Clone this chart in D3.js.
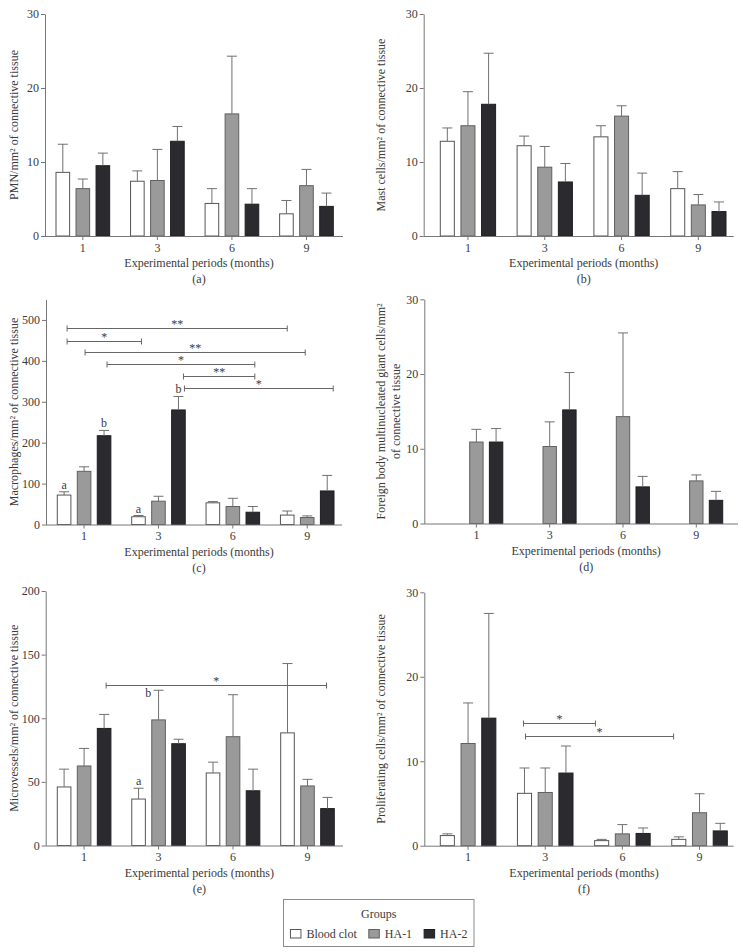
<!DOCTYPE html>
<html>
<head>
<meta charset="utf-8">
<script src="https://cdn.jsdelivr.net/npm/d3@7"></script>
<style>
  body { margin: 0; background: #fff; }
  svg { display: block; }
  text { font-family: "Liberation Serif", "Times New Roman", serif; fill: #3a3a3a; }
</style>
</head>
<body>
<div id="chart"></div>
<script>
// Categories
const months = ["1", "3", "6", "9"];
const groups = ["Blood clot", "HA-1", "HA-2"];

// Each table: rows = groups (Blood clot, HA-1, HA-2), columns = months
// (a) PMN
const pmnMean = [[8.6, 7.4, 4.4, 3.0], [6.4, 7.5, 16.5, 6.8], [9.5, 12.8, 4.3, 4.0]];
const pmnErr  = [[3.8, 1.4, 2.0, 1.8], [1.3, 4.2, 7.8, 2.2], [1.7, 2.0, 2.1, 1.8]];
// (b) Mast cells
const mastMean = [[12.8, 12.2, 13.4, 6.4], [14.9, 9.3, 16.2, 4.2], [17.8, 7.3, 5.5, 3.3]];
const mastErr  = [[1.8, 1.3, 1.5, 2.3], [4.6, 2.8, 1.4, 1.4], [6.9, 2.5, 3.0, 1.3]];
// (c) Macrophages
const macMean = [[72, 19, 53, 23], [130, 57, 44, 17], [217, 280, 30, 82]];
const macErr  = [[8, 3, 3, 10], [11, 12, 20, 4], [13, 33, 14, 38]];
// (d) Foreign body giant cells (no blood clot bars)
const fbgcMean = [[null, null, null, null], [10.9, 10.3, 14.3, 5.7], [10.9, 15.2, 4.9, 3.1]];
const fbgcErr  = [[null, null, null, null], [1.7, 3.3, 11.2, 0.8], [1.8, 5.0, 1.4, 1.2]];
// (e) Microvessels
const vesMean = [[46, 36.5, 57, 88.5], [62.5, 98.7, 85.5, 46.8], [92, 80, 43, 29]];
const vesErr  = [[14, 8.5, 8.5, 54.5], [13.8, 23.3, 33, 5.2], [11, 3.5, 17, 8.8]];
// (f) Proliferating cells
const proMean = [[1.2, 6.2, 0.6, 0.75], [12.1, 6.3, 1.4, 3.9], [15.1, 8.6, 1.45, 1.75]];
const proErr  = [[0.2, 3.0, 0.15, 0.3], [4.8, 2.9, 1.1, 2.25], [12.4, 3.2, 0.65, 0.9]];

// Significance brackets: [fromMonth, fromSlot, toMonth, toSlot, yValue, label]
// slot = bar position inside the month group (0 = Blood clot, 1 = HA-1, 2 = HA-2)
const macBrackets = [
  ["1", 0.15, "9", 0, 480, "**"],
  ["1", 0.15, "3", 0.15, 449, "*"],
  ["1", 1.05, "9", 0.9, 421, "**"],
  ["1", 2.15, "6", 2.1, 392, "*"],
  ["3", 2.25, "6", 2.1, 364, "**"],
  ["3", 2.3, "9", 2.3, 333, "*"]
];
const vesBrackets = [["1", 2.1, "9", 1.95, 126, "*"]];
const proBrackets = [
  ["3", -0.05, "6", -0.3, 14.5, "*"],
  ["3", 0.05, "9", -0.25, 13.0, "*"]
];
// Letters over bars: [month, group, letter, side]
const macLetters = [["1", 0, "a", "top"], ["3", 0, "a", "top"], ["1", 2, "b", "top"], ["3", 2, "b", "top"]];
const vesLetters = [["3", 0, "a", "top"], ["3", 1, "b", "left"]];

const fills = ["#ffffff", "#9a9a9a", "#2b2b2f"];
const strokes = ["#555555", "#606060", "#1e1e22"];
const axisColor = "#777";
const errColor = "#707070";

const panels = [
  { tag: "(a)", mean: pmnMean, err: pmnErr, yMax: 30, ticks: [0, 10, 20, 30],
    label: ["PMN/mm² of connective tissue"], labelX: [13.3],
    ax: 45, axR: 343, b0: 56, b1: 333.3, y0: 236, yTop: 14 },
  { tag: "(b)", mean: mastMean, err: mastErr, yMax: 30, ticks: [0, 10, 20, 30],
    label: ["Mast cells/mm² of connective tissue"], labelX: [380.3],
    ax: 423.7, axR: 733.7, b0: 440.3, b1: 726, y0: 236, yTop: 14 },
  { tag: "(c)", mean: macMean, err: macErr, yMax: 550, ticks: [0, 100, 200, 300, 400, 500],
    label: ["Macrophages/mm² of connective tissue"], labelX: [13.3],
    ax: 46, axR: 342, b0: 57.3, b1: 334, y0: 524.5, yTop: 299.5,
    brackets: macBrackets, letters: macLetters },
  { tag: "(d)", mean: fbgcMean, err: fbgcErr, yMax: 30, ticks: [0, 10, 20, 30],
    label: ["Foreign body multinucleated giant cells/mm²", "of connective tissue"], labelX: [380.3, 395.3],
    ax: 424.3, axR: 738, b0: 450, b1: 722.7, y0: 523.5, yTop: 299.3 },
  { tag: "(e)", mean: vesMean, err: vesErr, yMax: 200, ticks: [0, 50, 100, 150, 200],
    label: ["Microvessels/mm² of connective tissue"], labelX: [13.3],
    ax: 45.7, axR: 343, b0: 57.3, b1: 334.3, y0: 845.5, yTop: 591,
    brackets: vesBrackets, letters: vesLetters },
  { tag: "(f)", mean: proMean, err: proErr, yMax: 30, ticks: [0, 10, 20, 30],
    label: ["Proliferating cells/mm² of connective tissue"], labelX: [380.3],
    ax: 424.3, axR: 733.7, b0: 440.3, b1: 727.3, y0: 845.7, yTop: 592.3,
    brackets: proBrackets }
];

const svg = d3.select("#chart").append("svg")
  .attr("width", 743)
  .attr("height", 952);

function drawPanel(p) {
  const g = svg.append("g");
  const y = d3.scaleLinear().domain([0, p.yMax]).range([p.y0, p.yTop]);
  const x = d3.scaleBand().domain(months).range([p.b0, p.b1]).paddingInner(0.28).paddingOuter(0);
  const xs = d3.scaleBand().domain([0, 1, 2]).range([0, x.bandwidth()]).paddingInner(0.32);
  const cx = (m, s) => x(m) + xs(s) + xs.bandwidth() / 2;
  // fractional slot -> x (used by brackets)
  const slotX = (m, slot) => x(m) + xs.bandwidth() / 2 + slot * xs.step();

  // bars + error bars
  groups.forEach((grp, s) => {
    const rows = months.map((m, i) => ({ m, v: p.mean[s][i], e: p.err[s][i] }))
      .filter(d => d.v != null);
    g.selectAll(null).data(rows).enter().append("rect")
      .attr("x", d => x(d.m) + xs(s))
      .attr("y", d => y(d.v))
      .attr("width", xs.bandwidth())
      .attr("height", d => y(0) - y(d.v))
      .attr("fill", fills[s])
      .attr("stroke", strokes[s])
      .attr("stroke-width", 1);
    g.selectAll(null).data(rows).enter().append("path")
      .attr("d", d => {
        const xc = cx(d.m, s), yt = y(d.v + d.e);
        return `M${xc},${y(d.v)}V${yt}M${xc - 5},${yt}H${xc + 5}`;
      })
      .attr("fill", "none")
      .attr("stroke", errColor)
      .attr("stroke-width", 1);
  });

  // y axis
  const yAxis = g.append("g")
    .attr("transform", `translate(${p.ax},0)`)
    .call(d3.axisLeft(y).tickValues(p.ticks).tickSize(4).tickSizeOuter(0).tickPadding(2));
  yAxis.selectAll("path, line").attr("stroke", axisColor);
  yAxis.selectAll("text").attr("font-size", 12).attr("fill", "#3a3a3a")
    .style("font-family", '"Liberation Serif", serif');

  // x axis
  g.append("line")
    .attr("x1", p.ax).attr("x2", p.axR)
    .attr("y1", p.y0 + 0.5).attr("y2", p.y0 + 0.5)
    .attr("stroke", axisColor);
  const xAxis = g.append("g")
    .attr("transform", `translate(0,${p.y0})`)
    .call(d3.axisBottom(x).tickSize(4).tickSizeOuter(0).tickPadding(3));
  xAxis.select(".domain").remove();
  xAxis.selectAll("line").attr("stroke", axisColor);
  xAxis.selectAll("text").attr("font-size", 12).attr("fill", "#3a3a3a")
    .style("font-family", '"Liberation Serif", serif');

  const midX = (p.ax + p.axR) / 2 + 5;
  g.append("text")
    .attr("x", midX).attr("y", p.y0 + 31)
    .attr("text-anchor", "middle").attr("font-size", 12)
    .text("Experimental periods (months)");
  g.append("text")
    .attr("x", midX).attr("y", p.y0 + 47)
    .attr("text-anchor", "middle").attr("font-size", 12)
    .text(p.tag);

  // y label
  const midY = (p.y0 + p.yTop) / 2;
  p.label.forEach((t, i) => {
    g.append("text")
      .attr("transform", `translate(${p.labelX[i]},${midY}) rotate(-90)`)
      .attr("dy", "0.35em")
      .attr("text-anchor", "middle").attr("font-size", 12)
      .text(t);
  });

  // significance brackets
  (p.brackets || []).forEach(([m1, s1, m2, s2, v, lab]) => {
    const xa = slotX(m1, s1), xb = slotX(m2, s2), yy = Math.round(y(v)) + 0.5;
    g.append("path")
      .attr("d", `M${xa},${yy - 3}V${yy + 3}M${xa},${yy}H${xb}M${xb},${yy - 3}V${yy + 3}`)
      .attr("fill", "none").attr("stroke", "#666").attr("stroke-width", 1);
    g.append("text")
      .attr("x", (xa + xb) / 2).attr("y", yy - 1)
      .attr("text-anchor", "middle").attr("font-size", 12).attr("fill", "#666")
      .text(lab);
  });

  // letters
  (p.letters || []).forEach(([m, s, lab, side]) => {
    const gi = months.indexOf(m);
    const top = y(p.mean[s][gi] + p.err[s][gi]);
    const t = g.append("text").attr("font-size", 12).text(lab);
    if (side === "left") {
      t.attr("x", x(m) + xs(s) - 0.5).attr("y", top + 7).attr("text-anchor", "end");
    } else {
      t.attr("x", cx(m, s)).attr("y", top - 3).attr("text-anchor", "middle");
    }
  });
}

panels.forEach(drawPanel);

// legend
const legend = svg.append("g");
legend.append("rect")
  .attr("x", 283.5).attr("y", 899.5).attr("width", 190.5).attr("height", 47)
  .attr("fill", "#fff").attr("stroke", "#8a8a8a");
legend.append("text")
  .attr("x", 378.7).attr("y", 918)
  .attr("text-anchor", "middle").attr("font-size", 12)
  .text("Groups");
const items = legend.append("g");
let lx = 0;
groups.forEach((grp, s) => {
  items.append("rect")
    .attr("x", lx + 0.5).attr("y", 929.5).attr("width", 10.5).attr("height", 8.5)
    .attr("fill", fills[s]).attr("stroke", strokes[s]);
  const t = items.append("text")
    .attr("x", lx + 16.5).attr("y", 937.5).attr("font-size", 12)
    .text(grp);
  lx += 16.5 + t.node().getComputedTextLength() + 11.5;
});
const itemsW = lx - 11.5;
items.attr("transform", `translate(${378.7 - itemsW / 2},0)`);
</script>
</body>
</html>
